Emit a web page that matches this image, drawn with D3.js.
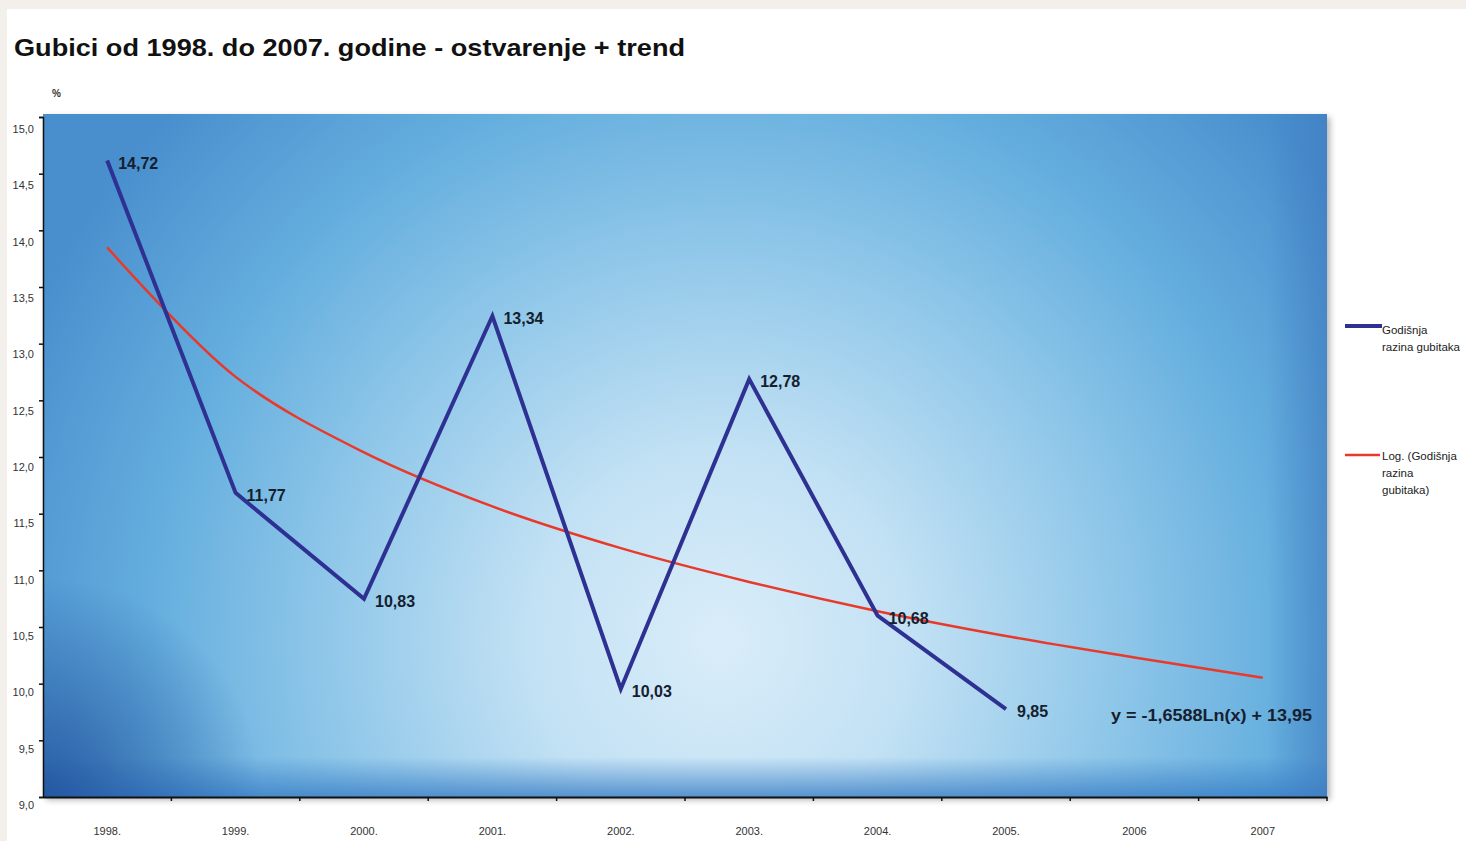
<!DOCTYPE html>
<html><head><meta charset="utf-8">
<script src="https://cdn.jsdelivr.net/npm/d3@7"></script>
<style>
html,body{margin:0;padding:0;background:#f3efeb;overflow:hidden;}
svg{display:block;font-family:"Liberation Sans",Arial,sans-serif;}
</style></head><body>
<svg id="c" width="1466" height="841"></svg>
<script>
const years = ["1998.","1999.","2000.","2001.","2002.","2003.","2004.","2005.","2006","2007"];
const actual = [14.72, 11.77, 10.83, 13.34, 10.03, 12.78, 10.68, 9.85];
const actualLabels = ["14,72","11,77","10,83","13,34","10,03","12,78","10,68","9,85"];
const trend = [13.95, 12.80, 12.13, 11.65, 11.28, 10.98, 10.72, 10.50, 10.31, 10.13];
const yTicks = [9.0, 9.5, 10.0, 10.5, 11.0, 11.5, 12.0, 12.5, 13.0, 13.5, 14.0, 14.5, 15.0];
const title = "Gubici od 1998. do 2007. godine - ostvarenje + trend";
const equation = "y = -1,6588Ln(x) + 13,95";
const legend1 = ["Godišnja", "razina gubitaka"];
const legend2 = ["Log. (Godišnja", "razina", "gubitaka)"];

const svg = d3.select("#c");
const L = 43, R = 1327, T = 114, B = 797;

svg.append("rect").attr("x",7).attr("y",9).attr("width",1459).attr("height",832).attr("fill","#ffffff");

const defs = svg.append("defs");
const rg = defs.append("radialGradient").attr("id","bg").attr("gradientUnits","userSpaceOnUse")
  .attr("cx",720).attr("cy",640).attr("r",760);
[[0,"#daedf9"],[0.25,"#c2e1f4"],[0.5,"#93c9ea"],[0.75,"#64aede"],[1,"#4a8fce"]].forEach(s=>
  rg.append("stop").attr("offset",s[0]).attr("stop-color",s[1]));
const bl = defs.append("radialGradient").attr("id","bl").attr("gradientUnits","userSpaceOnUse")
  .attr("cx",L).attr("cy",B).attr("r",220);
bl.append("stop").attr("offset",0).attr("stop-color","#1d4c98").attr("stop-opacity",0.8);
bl.append("stop").attr("offset",1).attr("stop-color","#1d4c98").attr("stop-opacity",0);
const bot = defs.append("linearGradient").attr("id","bot").attr("x1",0).attr("y1",0).attr("x2",0).attr("y2",1);
bot.append("stop").attr("offset",0).attr("stop-color","#3a7fc6").attr("stop-opacity",0);
bot.append("stop").attr("offset",1).attr("stop-color","#3a7fc6").attr("stop-opacity",0.8);
const rt = defs.append("linearGradient").attr("id","rt").attr("x1",0).attr("y1",0).attr("x2",1).attr("y2",0);
rt.append("stop").attr("offset",0).attr("stop-color","#3f7bc0").attr("stop-opacity",0);
rt.append("stop").attr("offset",1).attr("stop-color","#3f7bc0").attr("stop-opacity",0.6);
const sh = defs.append("filter").attr("id","sh").attr("x","-5%").attr("y","-5%").attr("width","110%").attr("height","110%");
sh.append("feGaussianBlur").attr("in","SourceAlpha").attr("stdDeviation",3);
sh.append("feOffset").attr("dx",3).attr("dy",3).attr("result","b");
sh.append("feComponentTransfer").append("feFuncA").attr("type","linear").attr("slope",0.3);
const mg = sh.append("feMerge"); mg.append("feMergeNode"); mg.append("feMergeNode").attr("in","SourceGraphic");

svg.append("rect").attr("x",L).attr("y",T).attr("width",R-L).attr("height",B-T).attr("fill","url(#bg)").attr("filter","url(#sh)");
svg.append("rect").attr("x",L).attr("y",B-40).attr("width",R-L).attr("height",40).attr("fill","url(#bot)");
svg.append("rect").attr("x",R-60).attr("y",T).attr("width",60).attr("height",B-T).attr("fill","url(#rt)");
svg.append("rect").attr("x",L).attr("y",B-220).attr("width",220).attr("height",220).attr("fill","url(#bl)");

svg.append("text").attr("x",14).attr("y",56).attr("font-size",24).attr("font-weight","bold").attr("fill","#111")
  .attr("textLength",671).attr("lengthAdjust","spacingAndGlyphs").text(title);
svg.append("text").attr("x",52).attr("y",97).attr("font-size",10).attr("font-weight","bold").attr("fill","#333").text("%");

const x = d3.scaleBand().domain(years).range([L,R]);
const yData = d3.scaleLinear().domain([9,15]).range([805,129]);
const yTick = d3.scaleLinear().domain([9,15]).range([B,117]);
const fmt = d => d3.format(".1f")(d).replace(".",",");

const ya = svg.append("g").attr("transform",`translate(${L},0)`)
  .call(d3.axisLeft(yTick).tickValues(yTicks).tickSize(4).tickFormat(fmt));
ya.select(".domain").attr("stroke","#111").attr("stroke-width",1.5);
ya.selectAll(".tick line").attr("stroke","#111").attr("stroke-width",1.5);
ya.selectAll(".tick text").attr("x",-9).attr("y",d=>yData(d)-yTick(d))
  .attr("font-size",11).attr("fill","#333").attr("font-family","'Liberation Sans',Arial,sans-serif");

const xa = svg.append("g").attr("transform",`translate(0,${B})`)
  .call(d3.axisBottom(x).tickSize(0).tickPadding(0));
xa.select(".domain").attr("stroke","#111").attr("stroke-width",1.8);
xa.selectAll(".tick text").attr("y",30).attr("font-size",11).attr("fill","#333")
  .attr("font-family","'Liberation Sans',Arial,sans-serif");
const bounds = years.map(d=>x(d)).concat([R]).slice(1);
svg.append("g").selectAll("line").data(bounds).join("line")
  .attr("x1",d=>d).attr("x2",d=>d).attr("y1",B).attr("y2",B+4).attr("stroke","#111").attr("stroke-width",1.5);

const cx = i => x(years[i]) + x.bandwidth()/2;

svg.append("path").datum(trend).attr("fill","none").attr("stroke","#e8392b").attr("stroke-width",2.5)
  .attr("d", d3.line().x((d,i)=>cx(i)).y(d=>yData(d)).curve(d3.curveCatmullRom.alpha(0.5)));

svg.append("path").datum(actual).attr("fill","none").attr("stroke","#2e3192").attr("stroke-width",4)
  .attr("stroke-linejoin","miter")
  .attr("d", d3.line().x((d,i)=>cx(i)).y(d=>yData(d)));

svg.append("g").selectAll("text").data(actual).join("text")
  .attr("x",(d,i)=>cx(i)+11).attr("y",d=>yData(d)+8)
  .attr("font-size",16).attr("font-weight","bold").attr("fill","#15202e")
  .text((d,i)=>actualLabels[i]);

svg.append("text").attr("x",1111).attr("y",721)
  .attr("font-size",16).attr("font-weight","bold").attr("fill","#15202e")
  .attr("textLength",201).attr("lengthAdjust","spacingAndGlyphs").text(equation);

const lg = svg.append("g").attr("font-size",11.5).attr("fill","#222");
lg.append("line").attr("x1",1345).attr("x2",1382).attr("y1",326).attr("y2",326).attr("stroke","#2e3192").attr("stroke-width",4);
legend1.forEach((t,i)=>lg.append("text").attr("x",1382).attr("y",334+i*17).text(t));
lg.append("line").attr("x1",1345).attr("x2",1380).attr("y1",455).attr("y2",455).attr("stroke","#e8392b").attr("stroke-width",2.5);
legend2.forEach((t,i)=>lg.append("text").attr("x",1382).attr("y",460+i*17).text(t));
</script>
</body></html>
